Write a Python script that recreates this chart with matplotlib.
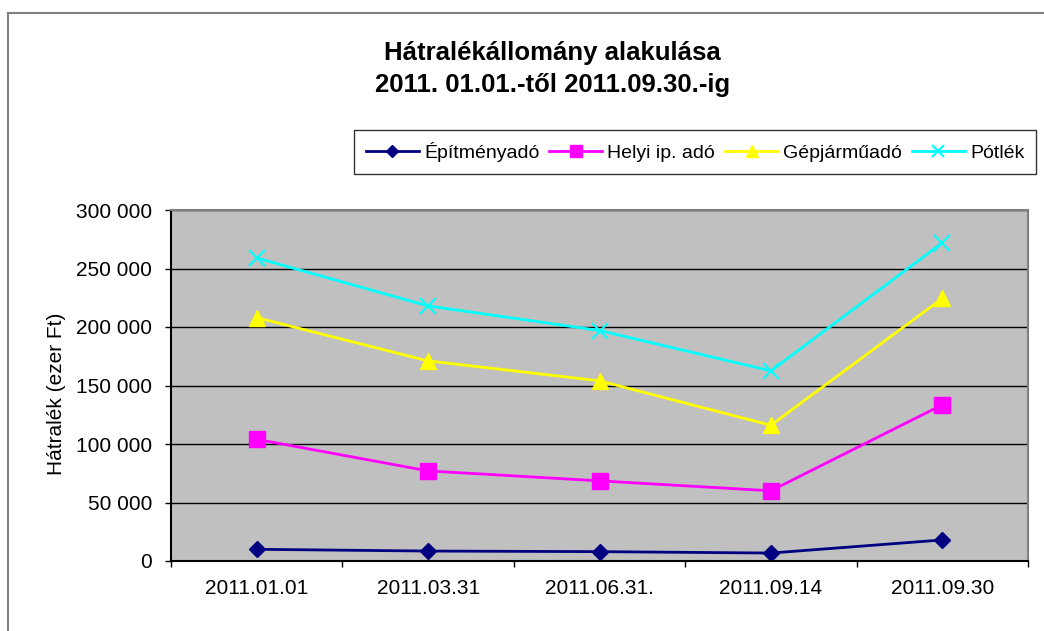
import matplotlib
matplotlib.use("Agg")
import matplotlib.pyplot as plt
from matplotlib.lines import Line2D
from matplotlib.ticker import FuncFormatter, FixedLocator

plt.rcParams['font.family'] = ['Liberation Sans', 'DejaVu Sans']

dates = ["2011.01.01", "2011.03.31", "2011.06.31.", "2011.09.14", "2011.09.30"]
epitmeny = [10000, 8500, 8000, 6800, 18000]
helyi = [104000, 77000, 68500, 60000, 133500]
gepjarmu = [208000, 171000, 154000, 116000, 224500]
potlek = [259000, 218000, 197000, 162500, 272000]

fig = plt.figure(figsize=(10.44, 6.31), dpi=100)
ax = fig.add_axes([171/1044, 70/631, 857/1044, 351/631])
ax.set_facecolor("#C0C0C0")

x = range(len(dates))
ax.plot(x, epitmeny, color="#000080", marker="D", markersize=8.5, lw=2, label="Építményadó")
ax.plot(x, helyi, color="#FF00FF", marker="s", markersize=11, lw=2, label="Helyi ip. adó")
ax.plot(x, gepjarmu, color="#FFFF00", marker="^", markersize=12, lw=2, label="Gépjárműadó")
ax.plot(x, potlek, color="#00FFFF", marker="x", markersize=11, mew=1.5, lw=2, label="Pótlék")

ax.set_xlim(-0.5, 4.5)
ax.set_ylim(0, 300000)
ax.set_yticks(range(0, 300001, 50000))
ax.yaxis.set_major_formatter(FuncFormatter(lambda v, p: f"{int(v):,}".replace(",", " ")))
ax.grid(axis="y", color="black", lw=1)
ax.set_axisbelow(True)

ax.set_xticks(list(x))
ax.set_xticklabels(dates)
ax.xaxis.set_minor_locator(FixedLocator([i - 0.5 for i in range(6)]))
ax.tick_params(axis="x", which="major", length=0, pad=13, labelsize=15)
ax.tick_params(axis="x", which="minor", length=4.5, width=1, direction="out")
ax.tick_params(axis="y", length=4.5, width=1, labelsize=15, pad=9)

for s in ax.spines.values():
    s.set_color("#808080")
    s.set_linewidth(1.5)
ax.spines["left"].set_color("black")
ax.spines["bottom"].set_color("black")

fig.text(57/1044, 1 - 394/631, "Hátralék (ezer Ft)", rotation=90, ha="center", va="center", fontsize=15)

fig.text(0.529, 1 - 69/631, "Hátralékállomány alakulása\n2011. 01.01.-től 2011.09.30.-ig",
         ha="center", va="center", fontsize=18.5, fontweight="bold", linespacing=1.45)

leg = fig.legend(loc="center", bbox_to_anchor=((358 + 1032) / 2 / 1044, 1 - 152/631), ncol=4,
                 fontsize=14, frameon=True, fancybox=False, edgecolor="black", markerscale=0.75,
                 handlelength=2.75, columnspacing=0.5, handletextpad=0.25, borderpad=0.6)
leg.get_frame().set_linewidth(1)

# figure border (left and top only visible)
fig.add_artist(Line2D([8/1044, 8/1044], [0, 1 - 13/631], color="#808080", lw=1.5))
fig.add_artist(Line2D([8/1044, 1], [1 - 13/631, 1 - 13/631], color="#808080", lw=1.5))

fig.savefig("out.png", dpi=100)
